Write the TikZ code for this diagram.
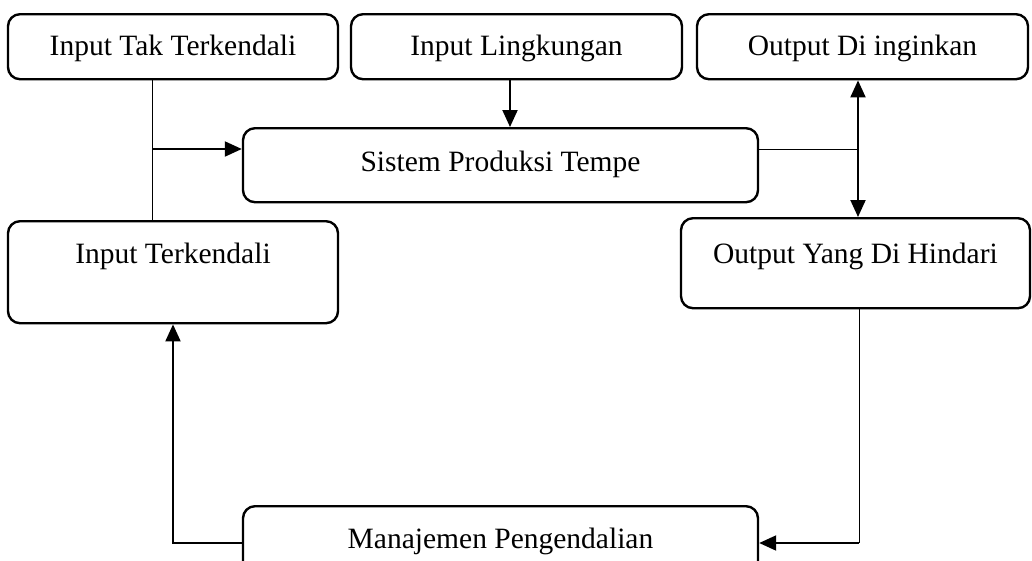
\documentclass[tikz,border=0pt]{standalone}
\usepackage{fontspec}
\setmainfont{Liberation Serif}
\usetikzlibrary{arrows.meta,calc}
\begin{document}
\begin{tikzpicture}[x=1pt,y=-1pt,
  box/.style={draw,line width=2.4pt,rounded corners=12pt,inner sep=0pt,anchor=north,
    font=\fontsize{29.5}{34}\selectfont},
  thinline/.style={line width=1pt},
  arr/.style={line width=2pt,-{Triangle[length=17pt,width=15pt]}},
  arrtwo/.style={line width=2pt,{Triangle[length=17pt,width=15pt]}-{Triangle[length=17pt,width=15pt]}}]
\useasboundingbox (0,0) rectangle (1032,560);
\clip (0,0) rectangle (1032,560);
% boxes (north anchor at top centre)
\node[box,minimum width=330pt,text height=41pt,text depth=24pt] (A) at (173,13) {Input Tak Terkendali};
\node[box,minimum width=331pt,text height=41pt,text depth=24pt] (B) at (516.5,13) {Input Lingkungan};
\node[box,minimum width=331pt,text height=41pt,text depth=24pt] (C) at (862.5,13) {Output Di inginkan};
\node[box,minimum width=515pt,text height=43pt,text depth=31pt] (S) at (500.5,127) {Sistem Produksi Tempe};
\node[box,minimum width=330pt,text height=42pt,text depth=60pt] (D) at (173,220) {Input Terkendali};
\node[box,minimum width=349pt,text height=45pt,text depth=45pt] (E) at (855.5,217) {Output Yang Di Hindari};
\node[box,minimum width=515pt,text height=42pt,text depth=38pt] (F) at (500.5,505) {Manajemen Pengendalian};
% junction coordinates
\coordinate (J) at (152,149);
\coordinate (BX) at (510,100);
\coordinate (K) at (858,149);
\coordinate (L) at (859,543);
\coordinate (M) at (173,543);
% connectors
\draw[thinline] (A.south -| J) -- (D.north -| J);
\draw[arr] (J) -- (S.west |- J);
\draw[arr] (B.south -| BX) -- (S.north -| BX);
\draw[thinline] (S.east |- K) -- (K);
\draw[arrtwo] (C.south -| K) -- (E.north -| K);
\draw[thinline] (E.south -| L) -- (L);
\draw[arr] (L) -- (F.east |- L);
\draw[arr] (F.west |- M) -- (M) -- (D.south -| M);
\end{tikzpicture}
\end{document}
